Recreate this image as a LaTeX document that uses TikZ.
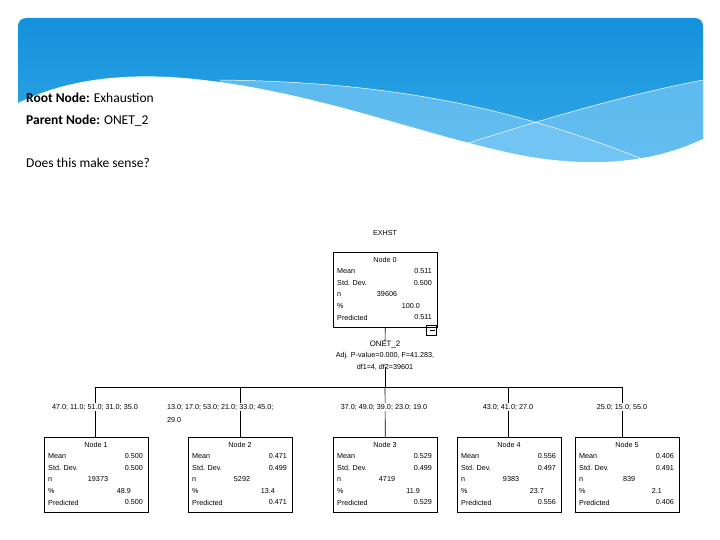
\documentclass[tikz,border=0pt]{standalone}
\usepackage{fontspec}
\setmainfont{Liberation Sans}
\newfontfamily\headfont{Carlito}
\begin{document}
\begin{tikzpicture}[x=1pt,y=-1pt,
  box/.style={draw,line width=0.6pt,minimum width=104pt,minimum height=75pt,inner sep=0,anchor=north west},
  tx/.style={font=\fontsize{7.2}{8}\selectfont,inner sep=0},
  conn/.style={line width=0.6pt},
  head/.style={font=\headfont\fontsize{13.5}{15}\selectfont,anchor=west,inner sep=0}]
\useasboundingbox (0,0) rectangle (720,540);
% banner
\definecolor{bA}{RGB}{20,145,220}
\definecolor{bB}{RGB}{60,175,235}
\definecolor{bC}{RGB}{120,200,245}
\begin{scope}
\clip[rounded corners=8pt] (18,18) rectangle (703,200);
\shade[top color=bA,bottom color=bB] (18,18) rectangle (703,200);
\fill[bC,opacity=0.7] (220,80) .. controls (400,82) and (520,110) .. (650,162) -- (703,200) -- (220,200) -- cycle;
\fill[bC,opacity=0.7] (440,152) .. controls (540,120) and (620,96) .. (703,80) -- (703,200) -- (440,200) -- cycle;
\draw[white,line width=0.5pt] (220,80) .. controls (400,82) and (520,110) .. (650,162);
\draw[white,line width=0.5pt] (440,152) .. controls (540,120) and (620,96) .. (703,80);
\end{scope}
\fill[white] (16,104) .. controls (60,82) and (110,74) .. (170,77) .. controls (300,85) and (420,135) .. (520,155) .. controls (600,170) and (660,160) .. (705,138) -- (705,205) -- (16,205) -- cycle;
\node[head] (t1) at (26,98) {\textbf{Root Node:} Exhaustion};
\node[head] (t2) at (26,121) {\textbf{Parent Node:} ONET\_2};
\node[head] (t3) at (26,163) {Does this make sense?};
% tree
\node[tx] (title) at (385,233) {EXHST};
\newcommand\statbox[9]{%
  \node[box] (#1) at (#2,#3) {};
  \node[tx] (#1t) at (#2+52,#3+8) {#4};
  \node[tx,anchor=west] (#1a) at (#2+4,#3+19.5) {Mean};
  \node[tx,anchor=west] (#1b) at (#2+4,#3+31) {Std. Dev.};
  \node[tx,anchor=west] (#1c) at (#2+4,#3+42.5) {n};
  \node[tx,anchor=west] (#1d) at (#2+4,#3+54) {\%};
  \node[tx,anchor=west] (#1e) at (#2+4,#3+65.5) {Predicted};
  \node[tx,anchor=east] (#1f) at (#2+99,#3+19.5) {#5};
  \node[tx,anchor=east] (#1g) at (#2+99,#3+31) {#6};
  \node[tx] (#1h) at (#2+54,#3+42.5) {#7};
  \node[tx,anchor=east] (#1i) at (#2+87,#3+54) {#8};
  \node[tx,anchor=east] (#1j) at (#2+99,#3+65.5) {#9};
}
\statbox{n0}{333}{252}{Node 0}{0.511}{0.500}{39606}{100.0}{0.511}
\node[draw,line width=0.6pt,minimum size=10pt,inner sep=0,anchor=north east] (minus) at (437,325) {};
\draw[line width=0.6pt] (429.5,330) -- (434.5,330);
\node[tx] (split1) at (385,345) {\fontsize{7.8}{9}\selectfont ONET\_2};
\node[tx] (split2) at (385,355.5) {Adj. P-value=0.000, F=41.283,};
\node[tx] (split3) at (385,367) {df1=4, df2=39601};
\coordinate (hub) at (385,387);
\coordinate (hl) at (95,387);
\coordinate (hr) at (622,387);
\draw[conn] (n0.south) -- (split1.north);
\draw[conn] ([yshift=3pt]split3.south) -- (hub);
\draw[conn] (hl) -- (hr);
\statbox{n1}{44}{437}{Node 1}{0.500}{0.500}{19373}{48.9}{0.500}
\statbox{n2}{188}{437}{Node 2}{0.471}{0.499}{5292}{13.4}{0.471}
\statbox{n3}{333}{437}{Node 3}{0.529}{0.499}{4719}{11.9}{0.529}
\statbox{n4}{457}{437}{Node 4}{0.556}{0.497}{9383}{23.7}{0.556}
\statbox{n5}{575}{437}{Node 5}{0.406}{0.491}{839}{2.1}{0.406}
\draw[conn] (hl) -- (n1.north -| hl);
\draw[conn] (240,387) -- (n2.north -| 240,0);
\draw[conn] (hub) -- (n3.north);
\draw[conn] (508,387) -- (n4.north -| 508,0);
\draw[conn] (hr) -- (n5.north -| hr);
\node[tx,fill=white,inner sep=1pt] (l1) at (95,407) {47.0; 11.0; 51.0; 31.0; 35.0};
\node[tx,fill=white,inner sep=1pt,anchor=west] (l2) at (166,407) {13.0; 17.0; 53.0; 21.0; 33.0; 45.0;};
\node[tx,fill=white,inner sep=1pt,anchor=west] (l2b) at (166,420) {29.0};
\node[tx,fill=white,inner sep=1pt] (l3) at (384,407) {37.0; 49.0; 39.0; 23.0; 19.0};
\node[tx,fill=white,inner sep=1pt] (l4) at (508,407) {43.0; 41.0; 27.0};
\node[tx,fill=white,inner sep=1pt] (l5) at (622,407) {25.0; 15.0; 55.0};
\end{tikzpicture}
\end{document}
